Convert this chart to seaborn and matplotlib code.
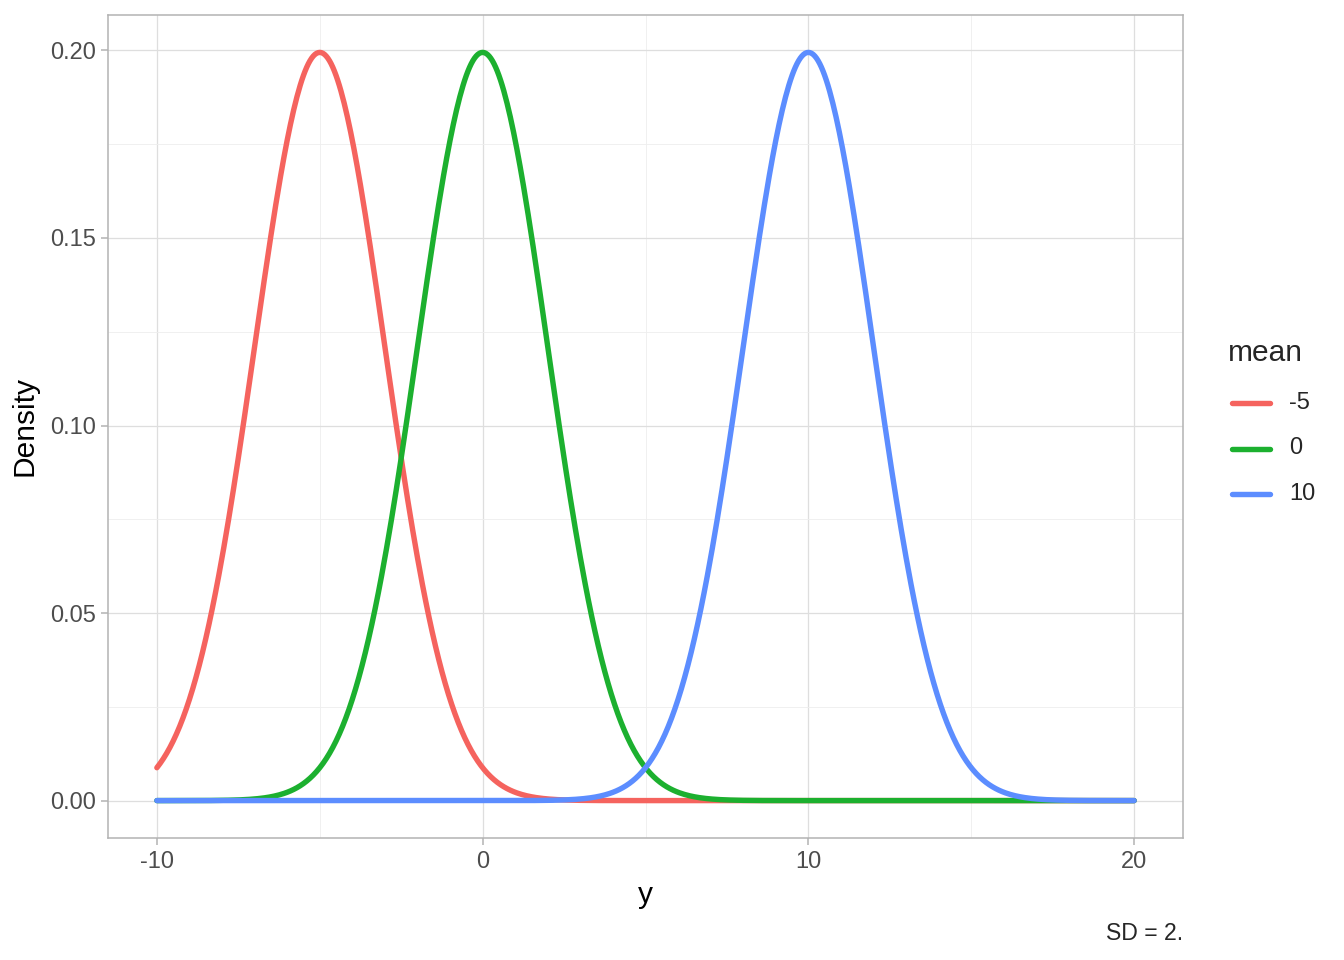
import matplotlib
matplotlib.use("Agg")
import matplotlib.pyplot as plt
import numpy as np
import pandas as pd
import seaborn as sns

# values
means = [-5, 0, 10]
sd = 2
y_lo, y_hi = -10, 20
colors = ["#F5635E", "#1CB02F", "#5C8DFF"]

y = np.linspace(y_lo, y_hi, 601)
frames = []
for m in means:
    dens = np.exp(-0.5 * ((y - m) / sd) ** 2) / (sd * np.sqrt(2 * np.pi))
    frames.append(pd.DataFrame({"y": y, "Density": dens, "mean": str(m)}))
df = pd.concat(frames, ignore_index=True)

sns.set_theme(style="white")
plt.rcParams["font.family"] = ["Liberation Sans", "DejaVu Sans"]
plt.rcParams["axes.unicode_minus"] = False

fig = plt.figure(figsize=(13.44, 9.6), dpi=100)
ax = fig.add_axes([108 / 1344, 1 - 838 / 960, (1183 - 108) / 1344, (838 - 15) / 960])

lw = 3.9
sns.lineplot(data=df, x="y", y="Density", hue="mean",
             hue_order=[str(m) for m in means], palette=colors,
             linewidth=lw, ax=ax, legend=False)

span = y_hi - y_lo
ax.set_xlim(y_lo - 0.05 * span, y_hi + 0.05 * span)
ymax = df["Density"].max()
ax.set_ylim(-0.05 * ymax, ymax * 1.05)

ax.set_xticks([-10, 0, 10, 20])
ax.set_xticklabels(["-10", "0", "10", "20"])
ax.set_xticks([-5, 5, 15], minor=True)
ax.set_yticks([0, 0.05, 0.10, 0.15, 0.20])
ax.set_yticklabels(["0.00", "0.05", "0.10", "0.15", "0.20"])
ax.set_yticks([0.025, 0.075, 0.125, 0.175], minor=True)

ax.grid(which="major", color="#DEDEDE", linewidth=0.9)
ax.grid(which="minor", color="#EEEEEE", linewidth=0.6)
ax.set_axisbelow(True)
for s in ax.spines.values():
    s.set_color("#B3B3B3")
    s.set_linewidth(1.1)

ax.tick_params(axis="both", which="major", bottom=True, left=True, length=5,
               width=1.1, color="#B3B3B3", labelsize=17, labelcolor="#4D4D4D", pad=4)
ax.tick_params(axis="both", which="minor", length=0)
ax.set_xlabel("y", fontsize=21.5, labelpad=6, color="black")
ax.set_ylabel("Density", fontsize=21.5, labelpad=8, color="black")

# legend
fig.text(1228 / 1344, 1 - 353 / 960, "mean", fontsize=21.5, va="center", ha="left")
for i, (m, c) in enumerate(zip(means, colors)):
    yy = 1 - (403 + 45.5 * i) / 960
    fig.add_artist(plt.Line2D([1232 / 1344, 1270 / 1344], [yy, yy], color=c,
                              linewidth=lw, transform=fig.transFigure))
    fig.text(1289 / 1344, yy, str(m), fontsize=17, va="center", ha="left")

fig.text(1183 / 1344, 1 - 933 / 960, "SD = 2.", fontsize=16.6, ha="right", va="center")

fig.savefig("out.png", dpi=100)
